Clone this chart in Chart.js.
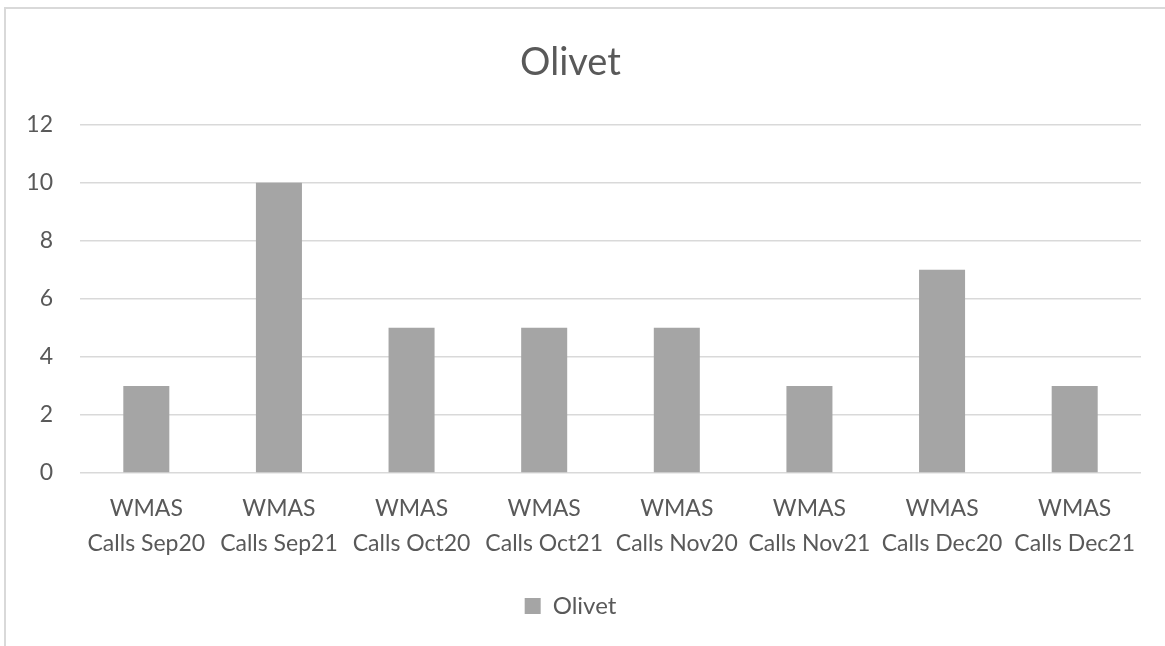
<!DOCTYPE html>
<html>
<head>
<meta charset="utf-8">
<script src="https://cdn.jsdelivr.net/npm/chart.js@4/dist/chart.umd.min.js"></script>
<style>
  html, body { margin: 0; padding: 0; background: #fff; overflow: hidden; }
  #wrap { position: absolute; left: 0; top: 0; width: 1182px; height: 646px; }
  #frame { position: absolute; left: 4px; top: 7px; width: 1300px; height: 800px;
           border-left: 2px solid #d9d9d9; border-top: 2px solid #d9d9d9; pointer-events: none; }
</style>
</head>
<body>
<div id="wrap"><canvas id="olivetChart" width="1182" height="646"></canvas></div>
<div id="frame"></div>
<script>
// Dados do gráfico
const categories = [
  ["WMAS", "Calls Sep20"],
  ["WMAS", "Calls Sep21"],
  ["WMAS", "Calls Oct20"],
  ["WMAS", "Calls Oct21"],
  ["WMAS", "Calls Nov20"],
  ["WMAS", "Calls Nov21"],
  ["WMAS", "Calls Dec20"],
  ["WMAS", "Calls Dec21"],
];
const olivetValues = [3, 10, 5, 5, 5, 3, 7, 3];
const yTicks = [0, 2, 4, 6, 8, 10, 12];

const textColor = "#595959";
Chart.defaults.font.family = "Lato, 'Noto Sans', sans-serif";
Chart.defaults.color = textColor;

const ctx = document.getElementById("olivetChart").getContext("2d");
new Chart(ctx, {
  type: "bar",
  data: {
    labels: categories,
    datasets: [
      {
        label: "Olivet",
        data: olivetValues,
        backgroundColor: "#a5a5a5",
        borderWidth: 0,
        barPercentage: 0.347,
        categoryPercentage: 1,
      },
    ],
  },
  options: {
    responsive: false,
    animation: false,
    layout: { padding: { left: 0, right: 41, top: 0, bottom: 18 } },
    plugins: {
      title: {
        display: true,
        text: "Olivet",
        color: textColor,
        font: { size: 38, weight: "normal" },
        padding: { top: 40, bottom: 39 },
      },
      legend: {
        position: "bottom",
        labels: {
          color: textColor,
          font: { size: 24 },
          boxWidth: 16,
          boxHeight: 16,
          padding: 10,
        },
      },
      tooltip: { enabled: false },
    },
    scales: {
      x: {
        grid: { display: false },
        border: { display: false },
        ticks: {
          color: textColor,
          font: { size: 23, lineHeight: 1.52 },
          maxRotation: 0,
          minRotation: 0,
          autoSkip: false,
          padding: 10,
        },
        afterFit: (scale) => { scale.height = 111; },
      },
      y: {
        min: 0,
        max: 12,
        afterBuildTicks: (scale) => { scale.ticks = yTicks.map((v) => ({ value: v })); },
        grid: { color: "#d9d9d9", lineWidth: 1.5, drawTicks: false },
        border: { display: false },
        ticks: {
          color: textColor,
          font: { size: 23 },
          padding: 27,
        },
        afterFit: (scale) => { scale.width = 80; },
      },
    },
  },
});
</script>
</body>
</html>
